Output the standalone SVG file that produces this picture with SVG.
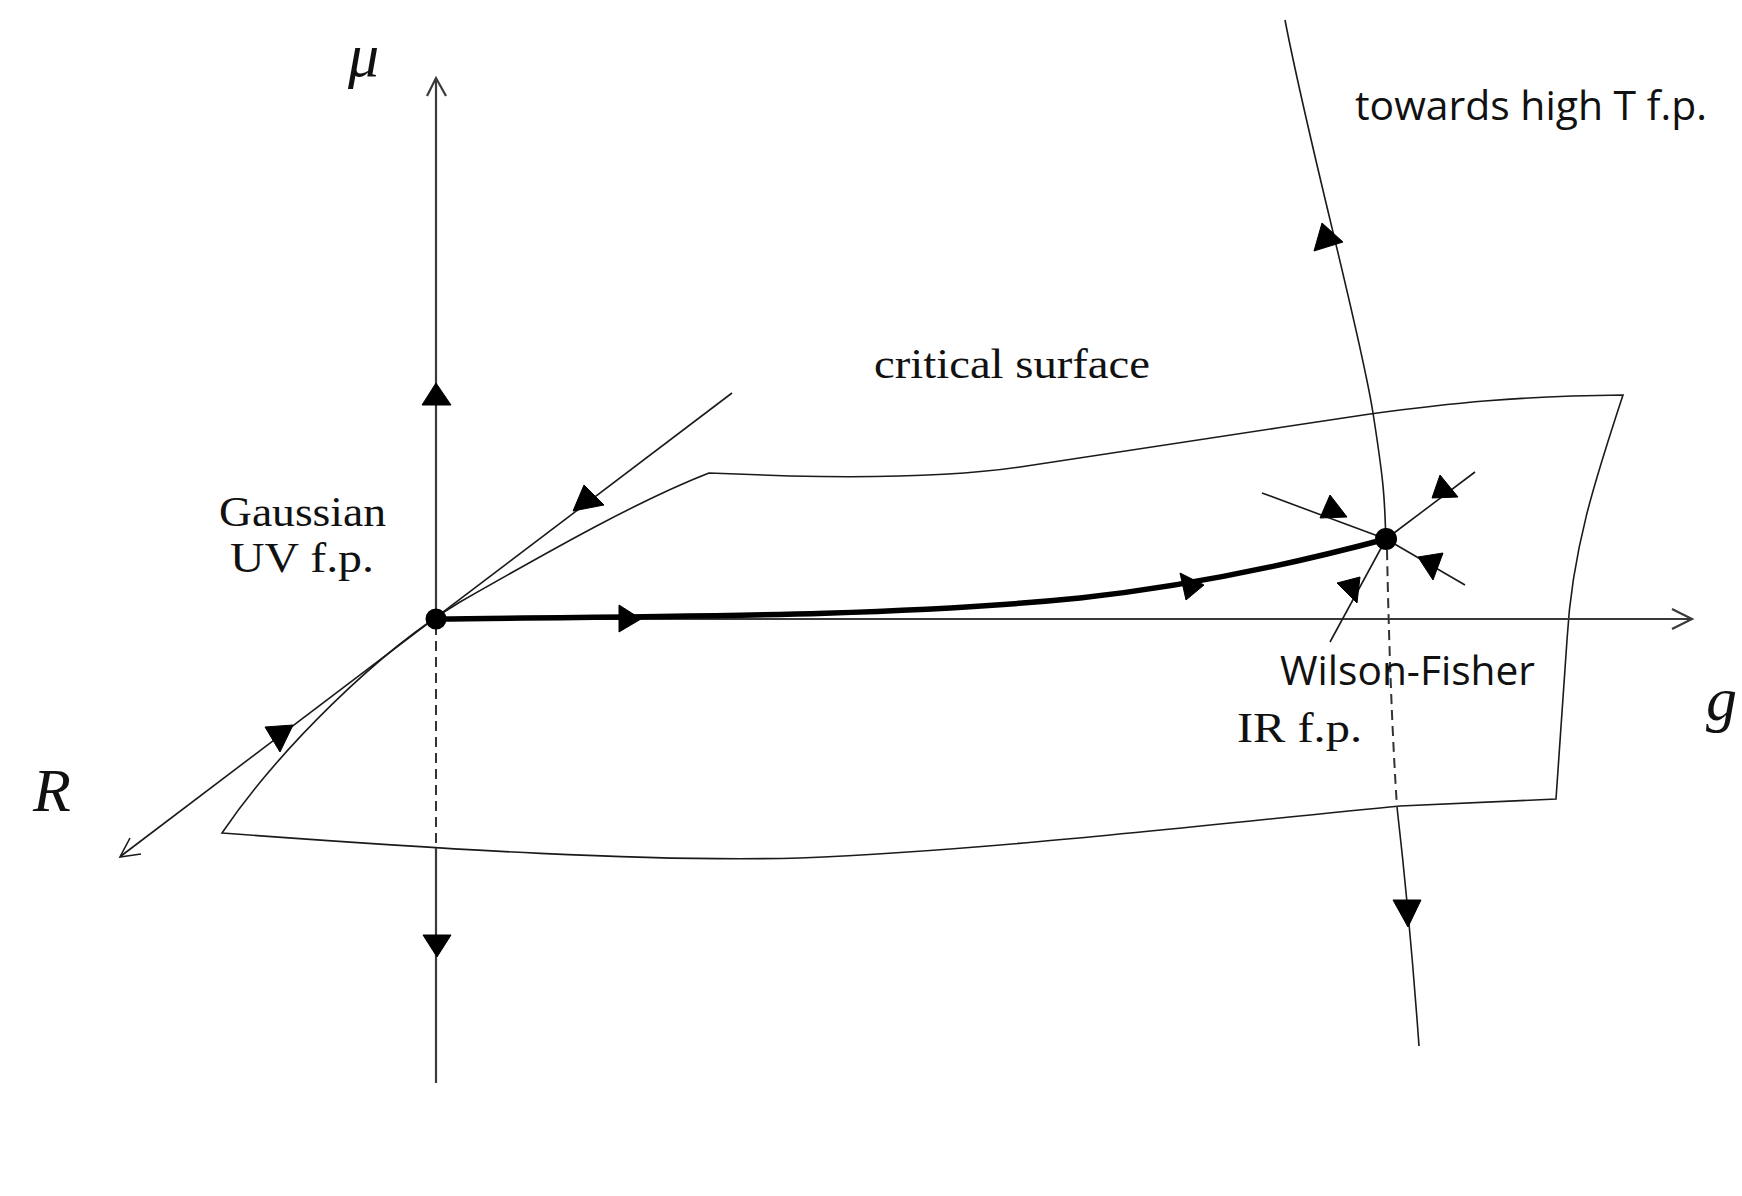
<svg xmlns="http://www.w3.org/2000/svg" width="1742" height="1196" viewBox="0 0 1742 1196">
<style>
.thin{fill:none;stroke:#1a1a1a;stroke-width:1.6}
.axis{fill:none;stroke:#3a3a3a;stroke-width:2.2}
.thick{fill:none;stroke:#000;stroke-width:5.5;stroke-linecap:round}
.dash{fill:none;stroke:#333;stroke-width:2;stroke-dasharray:10 6}
.tri{fill:#000;stroke:#000;stroke-width:1;stroke-linejoin:round}
.dot{fill:#000}
.serif{font-family:"Liberation Serif","DejaVu Serif",serif;font-size:42px;fill:#111}
.math{font-family:"Liberation Serif","DejaVu Serif",serif;font-style:italic;font-size:62px;fill:#111}
.sans{font-family:"Open Sans","Liberation Sans",sans-serif;font-size:41px;fill:#111}
</style>
<rect width="1742" height="1196" fill="#fff"/>

<g id="critical-surface">
<path class="thin" d="M222 833 C280 748 380 650 460 602 C560 545 640 500 709 473 L790 476 C880 478 960 476 1020 467 C1120 452 1250 432 1370 414 C1450 403 1520 396 1623 395 C1595 480 1572 550 1567 640 L1556 799 L1400 806 C1250 820 1000 850 800 858 C650 862 450 850 222 833 Z"/>
<text class="serif" x="874" y="378" textLength="276" lengthAdjust="spacingAndGlyphs">critical surface</text>
</g>

<g id="axis-mu">
<line class="axis" x1="436" y1="80" x2="436" y2="619"/>
<line class="dash" x1="436" y1="625" x2="436" y2="848"/>
<line class="axis" x1="436" y1="848" x2="436" y2="1083"/>
<polyline class="axis" points="427,96 436,78 446,96"/>
<text class="math" x="348" y="76">μ</text>
</g>

<g id="axis-g">
<line class="axis" x1="436" y1="619" x2="1691" y2="619"/>
<polyline class="axis" points="1672,609 1692,619 1672,629"/>
<text class="math" x="1706" y="720">g</text>
</g>

<g id="axis-R">
<line class="thin" x1="732" y1="393" x2="121" y2="856"/>
<polyline class="thin" points="130,838 120,857 141,854"/>
<text class="math" x="33" y="811">R</text>
</g>

<g id="connectors">
<path class="thick" d="M436 619 C700 616 900 616 1080 598 C1200 585 1300 562 1386 539"/>
<path class="thin" d="M1285 20 C1310 150 1360 330 1373 413 S1384 500 1386 539"/>
<path class="dash" d="M1387 550 Q1390 700 1397 807"/>
<path class="thin" d="M1397 807 Q1410 920 1419 1046"/>
<line class="thin" x1="1262" y1="493" x2="1386" y2="539"/>
<line class="thin" x1="1475" y1="472" x2="1386" y2="539"/>
<line class="thin" x1="1465" y1="585" x2="1386" y2="539"/>
<line class="thin" x1="1330" y1="642" x2="1386" y2="539"/>
<g id="arrowheads">
<polygon class="tri" points="436,383 422,405 451,405"/>
<polygon class="tri" points="423,935 451,935 437,957"/>
<polygon class="tri" points="584,485 573,511 604,505"/>
<polygon class="tri" points="265,727 293,725 280,752"/>
<polygon class="tri" points="619,605 619,632 641,619"/>
<polygon class="tri" points="1180,573 1186,600 1204,585"/>
<polygon class="tri" points="1322,223 1314,251 1343,242"/>
<polygon class="tri" points="1393,900 1421,900 1408,927"/>
<polygon class="tri" points="1330,495 1320,518 1347,517"/>
<polygon class="tri" points="1440,475 1432,498 1458,497"/>
<polygon class="tri" points="1418,557 1443,553 1433,580"/>
<polygon class="tri" points="1337,583 1360,577 1357,603"/>
</g>
</g>

<g id="gaussian-fp">
<circle class="dot" cx="436" cy="619" r="10.5"/>
<text class="serif" x="219" y="526" textLength="167" lengthAdjust="spacingAndGlyphs">Gaussian</text>
<text class="serif" x="230" y="572" textLength="144" lengthAdjust="spacingAndGlyphs">UV  f.p.</text>
</g>

<g id="wilson-fisher-fp">
<circle class="dot" cx="1386" cy="539" r="11"/>
<text class="sans" x="1280" y="685" textLength="255" lengthAdjust="spacingAndGlyphs">Wilson-Fisher</text>
<text class="serif" x="1237" y="742" textLength="125" lengthAdjust="spacingAndGlyphs">IR  f.p.</text>
</g>

<g id="high-T-label">
<text class="sans" x="1355" y="120" textLength="352" lengthAdjust="spacingAndGlyphs">towards high T f.p.</text>
</g>
</svg>
